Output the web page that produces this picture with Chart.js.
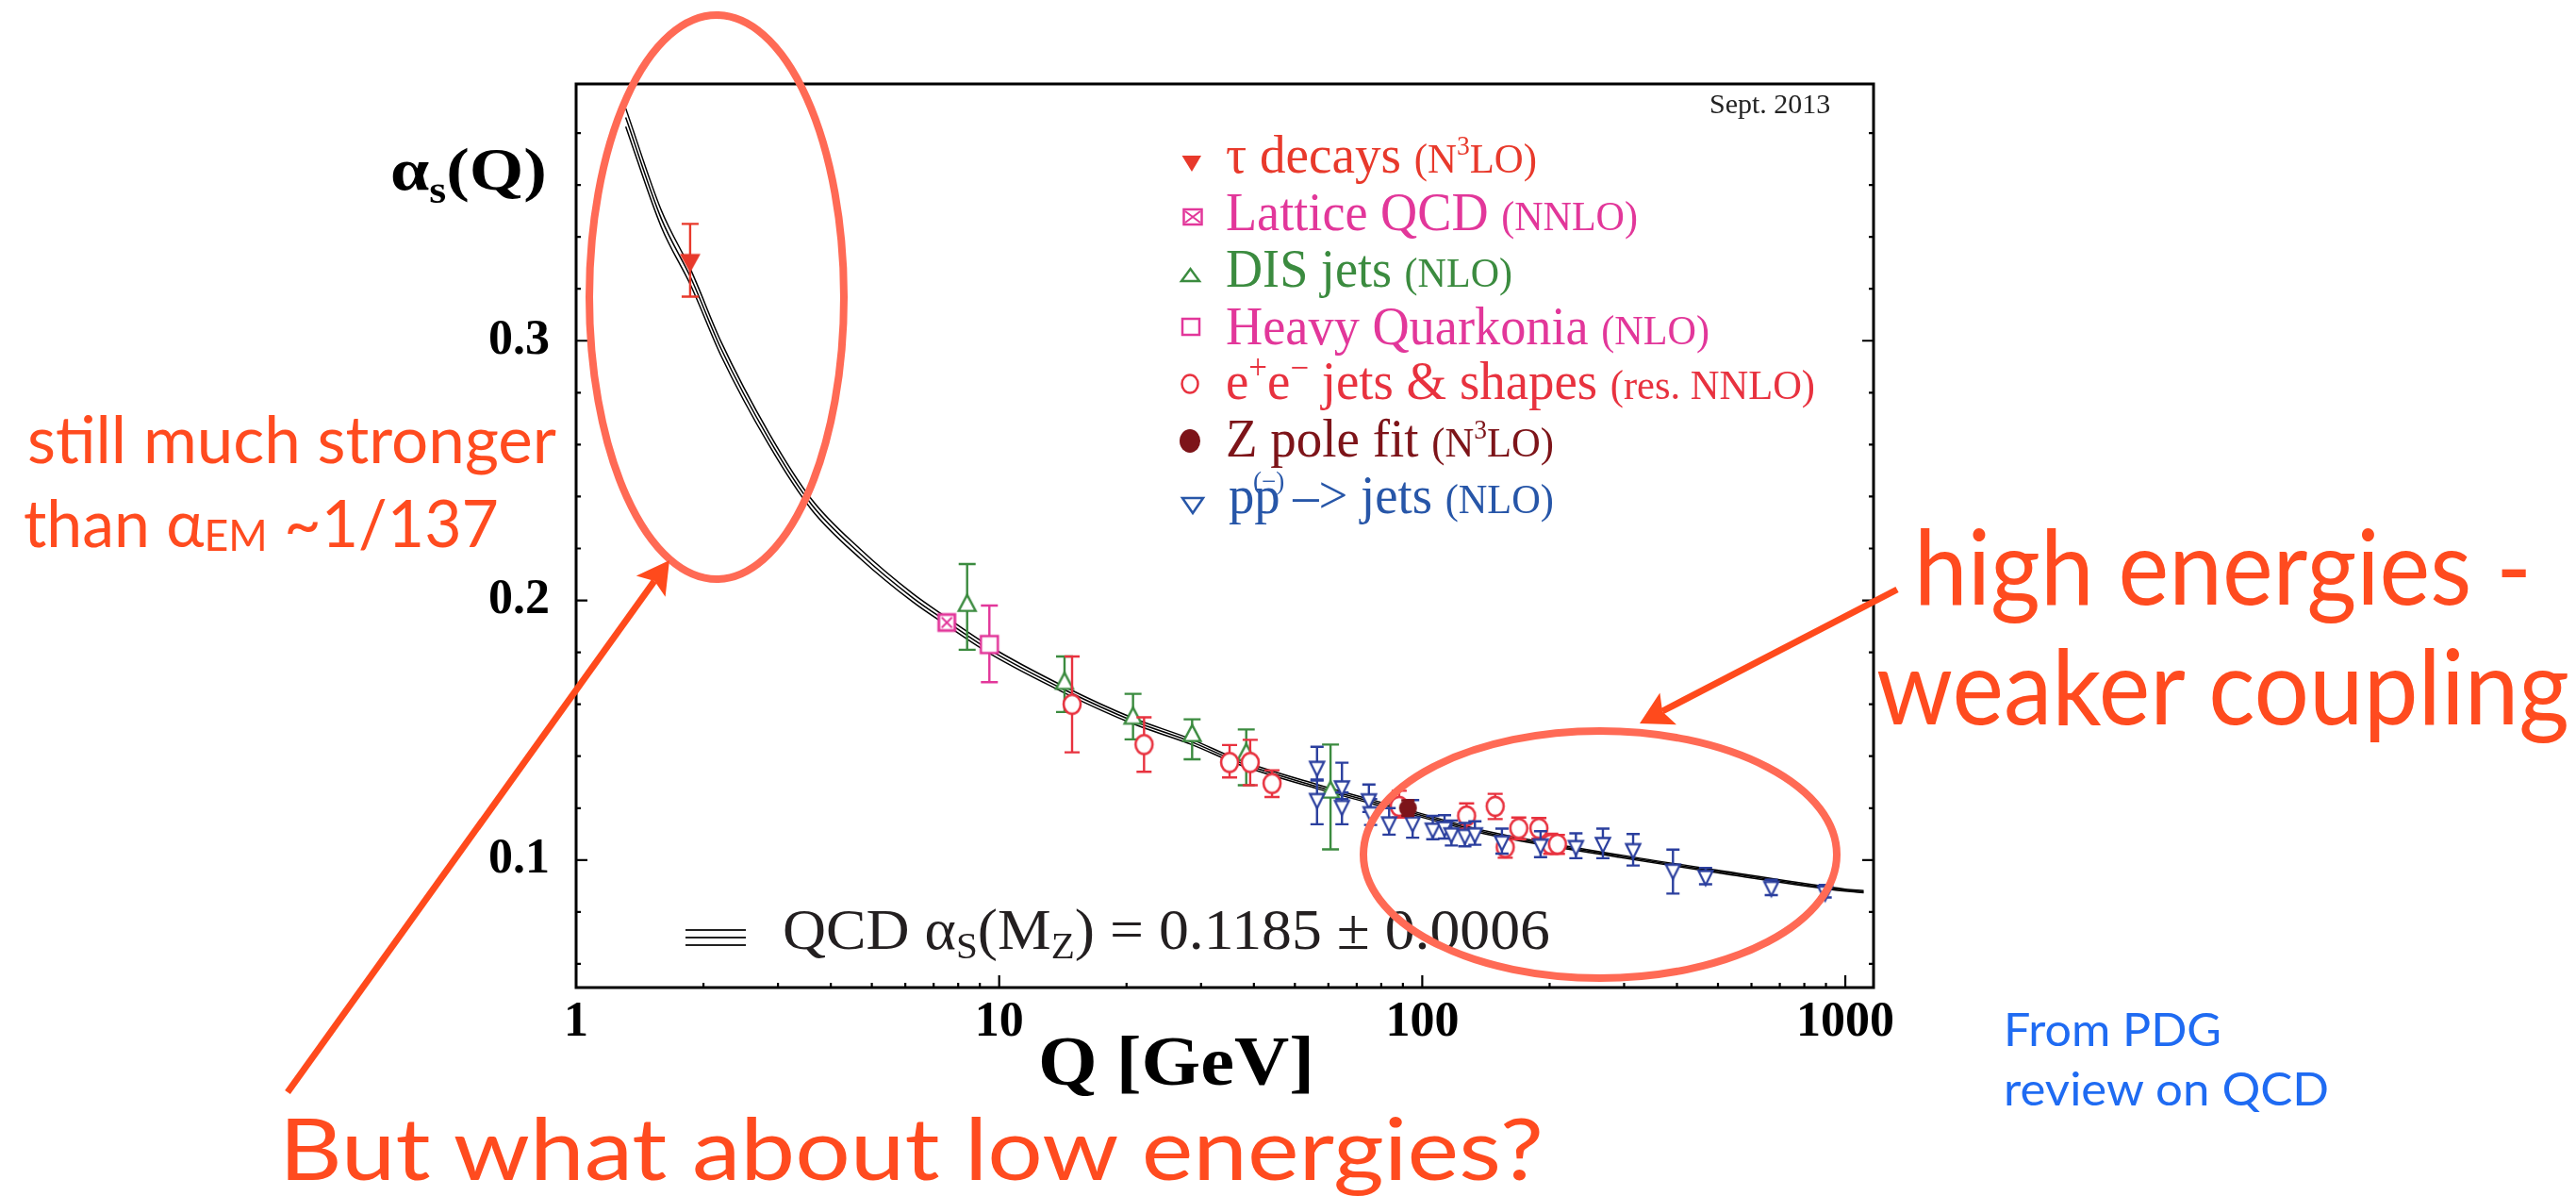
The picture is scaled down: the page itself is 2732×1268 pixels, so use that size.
<!DOCTYPE html>
<html>
<head>
<meta charset="utf-8">
<script src="https://cdn.jsdelivr.net/npm/chart.js@4.4.1/dist/chart.umd.min.js"></script>
<style>
html,body{margin:0;padding:0;background:#fff;overflow:hidden;}
#wrap{position:relative;width:2732px;height:1268px;background:#fff;}
#c{position:absolute;left:0;top:0;}
#ov{position:absolute;left:0;top:0;pointer-events:none;}
.serif{font-family:"Liberation Serif","Times New Roman",serif;}
.gill{font-family:"Lato","Open Sans",sans-serif;}
</style>
</head>
<body>
<div id="wrap">
<canvas id="c" width="2732" height="1268"></canvas>
<svg id="ov" width="2732" height="1268" xmlns="http://www.w3.org/2000/svg">
  <!-- axis titles -->
  <text class="serif" x="414" y="201" font-size="64" font-weight="bold" fill="#000" textLength="166" lengthAdjust="spacingAndGlyphs">α<tspan font-size="40" dy="14">s</tspan><tspan dy="-14">(Q)</tspan></text>
  <text class="serif" x="1101" y="1150" font-size="75" font-weight="bold" fill="#000" textLength="293" lengthAdjust="spacingAndGlyphs">Q [GeV]</text>
  <!-- Sept. 2013 -->
  <text class="serif" x="1813" y="120" font-size="30" fill="#222">Sept. 2013</text>
  <!-- legend markers -->
  <polygon points="1253.5,165 1274,165 1264,182" fill="#e8392b"/>
  <rect x="1255.5" y="222" width="19" height="16" fill="#fff" stroke="#e2379a" stroke-width="2.5"/>
  <path d="M1257,224 L1273,236 M1273,224 L1257,236" stroke="#e2379a" stroke-width="2"/>
  <polygon points="1253,298 1272,298 1262.5,285" fill="#fff" stroke="#3b8b3f" stroke-width="2.5"/>
  <rect x="1254" y="338" width="18" height="17" fill="#fff" stroke="#e2379a" stroke-width="2.5"/>
  <ellipse cx="1262" cy="407" rx="8.5" ry="9.5" fill="#fff" stroke="#e8323f" stroke-width="2.5"/>
  <ellipse cx="1262" cy="467.5" rx="11" ry="12.5" fill="#7d1419"/>
  <polygon points="1254,528 1276,528 1265,544" fill="#fff" stroke="#2756a8" stroke-width="2.5"/>
  <!-- legend texts -->
  <text class="serif" x="1300" y="183" font-size="58" fill="#e8392b" textLength="330" lengthAdjust="spacingAndGlyphs">τ decays <tspan font-size="45">(N<tspan font-size="29" dy="-19">3</tspan><tspan dy="19">LO)</tspan></tspan></text>
  <text class="serif" x="1300" y="244" font-size="58" fill="#e2379a" textLength="437" lengthAdjust="spacingAndGlyphs">Lattice QCD <tspan font-size="45">(NNLO)</tspan></text>
  <text class="serif" x="1300" y="304" font-size="58" fill="#3b8b3f" textLength="304" lengthAdjust="spacingAndGlyphs">DIS jets <tspan font-size="45">(NLO)</tspan></text>
  <text class="serif" x="1300" y="365" font-size="58" fill="#e2379a" textLength="513" lengthAdjust="spacingAndGlyphs">Heavy Quarkonia <tspan font-size="45">(NLO)</tspan></text>
  <text class="serif" x="1300" y="423" font-size="58" fill="#e8323f" textLength="625" lengthAdjust="spacingAndGlyphs">e<tspan font-size="37" dy="-21">+</tspan><tspan dy="21">e</tspan><tspan font-size="37" dy="-21">−</tspan><tspan dy="21">  jets &amp; shapes </tspan><tspan font-size="45">(res. NNLO)</tspan></text>
  <text class="serif" x="1300" y="484" font-size="58" fill="#7d1419" textLength="348" lengthAdjust="spacingAndGlyphs">Z pole fit <tspan font-size="45">(N<tspan font-size="29" dy="-19">3</tspan><tspan dy="19">LO)</tspan></tspan></text>
  <text class="serif" x="1303" y="544" font-size="58" fill="#2756a8" textLength="345" lengthAdjust="spacingAndGlyphs">pp –&gt; jets <tspan font-size="45">(NLO)</tspan></text>
  <text class="serif" x="1329" y="519" font-size="27" fill="#2756a8">(−)</text>
  <!-- QCD label -->
  <path d="M727,986 H791 M727,994 H791 M727,1002 H791" stroke="#222" stroke-width="2.2"/>
  <text class="serif" x="830" y="1006" font-size="62" fill="#231f20" textLength="814" lengthAdjust="spacingAndGlyphs">QCD α<tspan font-size="40" dy="10">S</tspan><tspan dy="-10">(M</tspan><tspan font-size="40" dy="10">Z</tspan><tspan dy="-10">) = 0.1185 ± 0.0006</tspan></text>
  <!-- annotation ellipses -->
  <ellipse cx="760" cy="315" rx="135" ry="299" fill="none" stroke="#ff6a55" stroke-width="8"/>
  <ellipse cx="1697" cy="906" rx="251" ry="131" fill="none" stroke="#ff6a55" stroke-width="8"/>
  <!-- arrows -->
  <line x1="305" y1="1158" x2="694" y2="616" stroke="#ff4a1c" stroke-width="7"/>
  <polygon points="710,594 705.6,632.7 694.2,616 674.8,610.5" fill="#ff4a1c"/>
  <line x1="2012" y1="625" x2="1763" y2="754" stroke="#ff4a1c" stroke-width="7"/>
  <polygon points="1739,767 1778,768.2 1763.1,754.4 1760.4,734.4" fill="#ff4a1c"/>
  <!-- annotation texts -->
  <text class="gill" x="29" y="491" font-size="70" fill="#ff4b1f" textLength="561" lengthAdjust="spacingAndGlyphs">still much stronger</text>
  <text class="gill" x="25" y="580" font-size="70" fill="#ff4b1f" textLength="504" lengthAdjust="spacingAndGlyphs">than α<tspan font-size="46" dy="4">EM</tspan><tspan dy="-4"> ~1/137</tspan></text>
  <text class="gill" x="2030" y="641" font-size="110" fill="#ff4b1f" textLength="655" lengthAdjust="spacingAndGlyphs">high energies -</text>
  <text class="gill" x="1990" y="768" font-size="110" fill="#ff4b1f" textLength="735" lengthAdjust="spacingAndGlyphs">weaker coupling</text>
  <text class="gill" x="296" y="1251" font-size="92" fill="#ff4b1f" textLength="1341" lengthAdjust="spacingAndGlyphs">But what about low energies?</text>
  <text class="gill" x="2125" y="1109" font-size="48" fill="#1f6bf2" textLength="231" lengthAdjust="spacingAndGlyphs">From PDG</text>
  <text class="gill" x="2125" y="1172" font-size="48" fill="#1f6bf2" textLength="345" lengthAdjust="spacingAndGlyphs">review on QCD</text>
</svg>
</div>
<script>
// ---------------- axis ticks ----------------
const xTickValues = [1,2,3,4,5,6,7,8,9,10,20,30,40,50,60,70,80,90,100,200,300,400,500,600,700,800,900,1000];
const xTickLabels = ['1','','','','','','','','','10','','','','','','','','','100','','','','','','','','','1000'];
const yTickValues = [0.06,0.08,0.1,0.12,0.14,0.16,0.18,0.2,0.22,0.24,0.26,0.28,0.3,0.32,0.34,0.36,0.38];
const yTickLabels = ['','','0.1','','','','','0.2','','','','','0.3','','','',''];

// ---------------- QCD running band ----------------
const qcdQ        = [1.31, 1.59, 1.87, 2.2, 2.86, 3.6, 4.69, 6.25, 7.5, 9.48, 14.3, 20.7, 28.5, 36.7, 56.4, 86.5, 143, 298, 519, 1000, 1105];
const qcdCentral  = [0.386, 0.347, 0.324, 0.297, 0.262, 0.237, 0.218, 0.201, 0.192, 0.181, 0.1655, 0.1536, 0.1455, 0.1378, 0.1283, 0.1200, 0.1104, 0.1013, 0.0952, 0.0884, 0.0878];
const qcdHalfWidth= [0.0035, 0.0032, 0.003, 0.0027, 0.0023, 0.002, 0.0018, 0.0016, 0.0015, 0.0014, 0.0012, 0.0011, 0.001, 0.0009, 0.0008, 0.0007, 0.0006, 0.0005, 0.0005, 0.0004, 0.0004];

// ---------------- measurements ----------------
const tauQ = [1.86];
const tauAlpha = [0.331];
const tauErrUp = [0.014];
const tauErrDown = [0.014];

const latticeQ = [7.52];
const latticeAlpha = [0.1915];
const latticeErrUp = [0.0012];
const latticeErrDown = [0.0012];

const disQ = [8.40, 14.27, 20.72, 28.58, 38.37, 60.7];
const disAlpha = [0.198, 0.168, 0.1546, 0.1479, 0.1406, 0.1261];
const disErrUp = [0.016, 0.0104, 0.0094, 0.0063, 0.0097, 0.0184];
const disErrDown = [0.017, 0.011, 0.0081, 0.0091, 0.0118, 0.022];

const hqQ = [9.48];
const hqAlpha = [0.183];
const hqErrUp = [0.015];
const hqErrDown = [0.0145];

const eeQ = [14.87, 22.0, 35.04, 39.2, 44.15, 88.2, 127.3, 148.7, 157.1, 169.1, 188.7, 201.2, 208.7];
const eeAlpha = [0.160, 0.1445, 0.1376, 0.1376, 0.1295, 0.1207, 0.117, 0.1207, 0.1049, 0.1122, 0.1122, 0.1061, 0.1061];
const eeErrUp = [0.0184, 0.0105, 0.0067, 0.0087, 0.0051, 0.006, 0.0048, 0.0048, 0.004, 0.0042, 0.004, 0.004, 0.0036];
const eeErrDown = [0.0185, 0.0105, 0.0058, 0.0088, 0.0052, 0.0043, 0.005, 0.0049, 0.004, 0.0042, 0.004, 0.0037, 0.0037];

const zQ = [92.5];
const zAlpha = [0.120];
const zErrUp = [0.003];
const zErrDown = [0.003];

const ppQ = [56.4, 56.4, 64.6, 64.6, 74.8, 75.5, 83.5, 94.9, 105.9, 112.9, 117.2, 126.1, 133.2, 154.3, 190.4, 230.8, 267.3, 315.1, 391.4, 467.4, 668.4, 896];
const ppAlpha = [0.136, 0.1236, 0.1285, 0.121, 0.1235, 0.1185, 0.1146, 0.1146, 0.1122, 0.1128, 0.1104, 0.1098, 0.1104, 0.1073, 0.1061, 0.1055, 0.1067, 0.1043, 0.0964, 0.094, 0.0898, 0.088];
const ppErrUp = [0.0076, 0.007, 0.009, 0.005, 0.0056, 0.005, 0.0054, 0.0085, 0.0048, 0.0045, 0.0048, 0.0045, 0.0045, 0.0048, 0.005, 0.0048, 0.0054, 0.0057, 0.0076, 0.003, 0.0026, 0.0024];
const ppErrDown = [0.005, 0.0098, 0.005, 0.0072, 0.005, 0.005, 0.0048, 0.006, 0.0042, 0.0045, 0.0048, 0.0045, 0.0045, 0.0048, 0.005, 0.0048, 0.006, 0.0064, 0.0093, 0.0033, 0.0033, 0.0024];

// ---------------- marker images ----------------
function mk(w, h, draw) {
  const c = document.createElement('canvas');
  c.width = w; c.height = h;
  draw(c.getContext('2d'), w, h);
  return c;
}
function triDown(tw, th, fill, stroke, lw) {
  const H = Math.ceil(4 * th / 3 + 2 * lw + 2), W = Math.ceil(tw + 2 * lw + 2);
  return mk(W, H, (g, w, h) => {
    const cx = w / 2, cy = h / 2;
    g.beginPath();
    g.moveTo(cx - tw / 2, cy - th / 3);
    g.lineTo(cx + tw / 2, cy - th / 3);
    g.lineTo(cx, cy + 2 * th / 3);
    g.closePath();
    g.fillStyle = fill; g.fill();
    if (stroke) { g.lineWidth = lw; g.strokeStyle = stroke; g.lineJoin = 'miter'; g.stroke(); }
  });
}
function triUp(tw, th, fill, stroke, lw) {
  const H = Math.ceil(4 * th / 3 + 2 * lw + 2), W = Math.ceil(tw + 2 * lw + 2);
  return mk(W, H, (g, w, h) => {
    const cx = w / 2, cy = h / 2;
    g.beginPath();
    g.moveTo(cx - tw / 2, cy + th / 3);
    g.lineTo(cx + tw / 2, cy + th / 3);
    g.lineTo(cx, cy - 2 * th / 3);
    g.closePath();
    g.fillStyle = fill; g.fill();
    g.lineWidth = lw; g.strokeStyle = stroke; g.stroke();
  });
}
function square(s, stroke, lw, cross) {
  const W = Math.ceil(s + 2 * lw + 2);
  return mk(W, W, (g, w, h) => {
    const x0 = (w - s) / 2;
    g.fillStyle = '#fff'; g.fillRect(x0, x0, s, s);
    g.lineWidth = lw; g.strokeStyle = stroke; g.strokeRect(x0, x0, s, s);
    if (cross) {
      g.lineWidth = 2;
      g.beginPath();
      g.moveTo(x0 + 3, x0 + 3); g.lineTo(x0 + s - 3, x0 + s - 3);
      g.moveTo(x0 + s - 3, x0 + 3); g.lineTo(x0 + 3, x0 + s - 3);
      g.stroke();
    }
  });
}
function circ(rx, ry, fill, stroke, lw) {
  const W = Math.ceil(2 * rx + 2 * lw + 2), H = Math.ceil(2 * ry + 2 * lw + 2);
  return mk(W, H, (g, w, h) => {
    g.beginPath();
    g.ellipse(w / 2, h / 2, rx, ry, 0, 0, Math.PI * 2);
    g.fillStyle = fill; g.fill();
    if (stroke) { g.lineWidth = lw; g.strokeStyle = stroke; g.stroke(); }
  });
}

const C_TAU = '#e8392b', C_MAG = '#e2379a', C_DIS = '#3b8b3f', C_EE = '#e8323f', C_Z = '#7d1419', C_PP = '#2b3f9e';

const mTau = triDown(22, 20, C_TAU, null, 0);
const mLat = square(17, C_MAG, 3, true);
const mDis = triUp(18, 17, '#fff', C_DIS, 2.4);
const mHq = square(18, C_MAG, 2.6, false);
const mEe = circ(9, 10, '#fff', C_EE, 2.6);
const mZ = circ(9.5, 9.5, C_Z, null, 0);
const mPp = triDown(15, 15, '#fff', C_PP, 2.3);

function pts(qs, as) { return qs.map((q, i) => ({ x: q, y: as[i] })); }

function series(label, qs, as, up, dn, color, marker, capW) {
  return {
    label, data: pts(qs, as), errUp: up, errDown: dn, errColor: color, capW,
    pointStyle: marker, pointRadius: 6, pointHoverRadius: 6,
    borderColor: color, backgroundColor: color, showLine: false
  };
}

const bandLine = (arr, label) => ({
  label, data: pts(qcdQ, arr), showLine: true, pointRadius: 0, borderColor: '#000',
  borderWidth: 1.5, cubicInterpolationMode: 'monotone', fill: false
});

const qcdUpper = qcdCentral.map((v, i) => v + qcdHalfWidth[i]);
const qcdLower = qcdCentral.map((v, i) => v - qcdHalfWidth[i]);

const datasets = [
  series('tau decays', tauQ, tauAlpha, tauErrUp, tauErrDown, C_TAU, mTau, 18),
  series('Z pole fit', zQ, zAlpha, zErrUp, zErrDown, C_Z, mZ, 14),
  series('pp jets', ppQ, ppAlpha, ppErrUp, ppErrDown, C_PP, mPp, 14),
  series('e+e- jets & shapes', eeQ, eeAlpha, eeErrUp, eeErrDown, C_EE, mEe, 16),
  series('Heavy Quarkonia', hqQ, hqAlpha, hqErrUp, hqErrDown, C_MAG, mHq, 18),
  series('DIS jets', disQ, disAlpha, disErrUp, disErrDown, C_DIS, mDis, 18),
  series('Lattice QCD', latticeQ, latticeAlpha, latticeErrUp, latticeErrDown, C_MAG, mLat, 14),
  bandLine(qcdUpper, 'QCD upper'),
  bandLine(qcdCentral, 'QCD central'),
  bandLine(qcdLower, 'QCD lower')
];

// ---------------- plugins ----------------
const errorBars = {
  id: 'errorBars',
  beforeDatasetDraw(chart, args) {
    const ds = chart.data.datasets[args.index];
    if (!ds.errUp) return;
    const { ctx } = chart, x = chart.scales.x, y = chart.scales.y;
    ctx.save();
    ctx.strokeStyle = ds.errColor;
    ctx.lineWidth = 2.4;
    ds.data.forEach((p, i) => {
      const px = x.getPixelForValue(p.x);
      const yt = y.getPixelForValue(p.y + ds.errUp[i]);
      const yb = y.getPixelForValue(p.y - ds.errDown[i]);
      const hw = ds.capW / 2;
      ctx.beginPath();
      ctx.moveTo(px, yt); ctx.lineTo(px, yb);
      ctx.moveTo(px - hw, yt); ctx.lineTo(px + hw, yt);
      ctx.moveTo(px - hw, yb); ctx.lineTo(px + hw, yb);
      ctx.stroke();
    });
    ctx.restore();
  }
};

const frame = {
  id: 'frame',
  beforeDatasetsDraw(chart) {
    const { ctx, chartArea: a } = chart, x = chart.scales.x, y = chart.scales.y;
    ctx.save();
    ctx.strokeStyle = '#000';
    ctx.lineWidth = 3;
    ctx.strokeRect(a.left, a.top, a.right - a.left, a.bottom - a.top);
    ctx.lineWidth = 2.2;
    ctx.beginPath();
    y.ticks.forEach((t, i) => {
      const py = y.getPixelForValue(t.value);
      const len = yTickLabels[i] ? 12 : 5;
      ctx.moveTo(a.left, py); ctx.lineTo(a.left + len, py);
      ctx.moveTo(a.right, py); ctx.lineTo(a.right - len, py);
    });
    x.ticks.forEach((t, i) => {
      const px = x.getPixelForValue(t.value);
      if (px <= a.left + 1) return;
      const len = xTickLabels[i] ? 13 : 5;
      ctx.moveTo(px, a.bottom); ctx.lineTo(px, a.bottom - len);
    });
    ctx.stroke();
    ctx.restore();
  }
};

const tickFont = { family: '"Liberation Serif", "Times New Roman", serif', size: 52, weight: 'bold' };

new Chart(document.getElementById('c'), {
  type: 'scatter',
  data: { datasets },
  options: {
    responsive: false,
    animation: false,
    devicePixelRatio: 1,
    layout: { padding: { left: 411, top: 89, right: 745, bottom: 121 } },
    plugins: { legend: { display: false }, tooltip: { enabled: false } },
    scales: {
      x: {
        type: 'logarithmic', position: 'bottom', min: 1, max: 1166,
        afterBuildTicks: (a) => { a.ticks = xTickValues.map(v => ({ value: v })); },
        afterFit: (a) => { a.height = 100; },
        grid: { display: false, drawTicks: false },
        border: { display: false },
        ticks: {
          autoSkip: false, maxRotation: 0, minRotation: 0, padding: 6, color: '#000', font: tickFont,
          callback: (v, i) => xTickLabels[i]
        }
      },
      y: {
        type: 'linear', position: 'left', min: 0.0509, max: 0.3989,
        afterBuildTicks: (a) => { a.ticks = yTickValues.map(v => ({ value: v })); },
        afterFit: (a) => { a.width = 200; },
        grid: { display: false, drawTicks: false },
        border: { display: false },
        ticks: {
          autoSkip: false, padding: 28, color: '#000', font: tickFont,
          callback: (v, i) => yTickLabels[i]
        }
      }
    }
  },
  plugins: [frame, errorBars]
});
</script>
</body>
</html>
